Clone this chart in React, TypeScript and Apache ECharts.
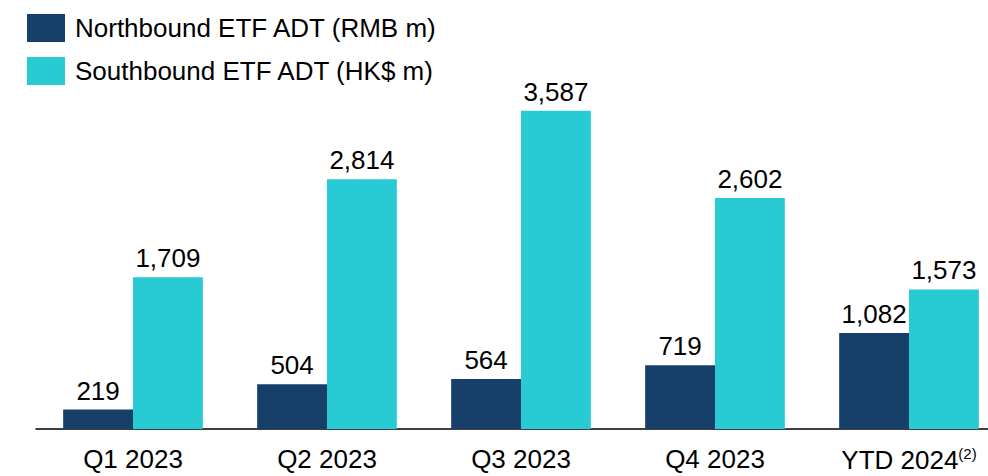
import React, { useEffect, useRef } from "react";
import * as echarts from "echarts";

const categories = ["Q1 2023", "Q2 2023", "Q3 2023", "Q4 2023", "YTD 2024"];
const northbound = [219, 504, 564, 719, 1082];
const southbound = [1709, 2814, 3587, 2602, 1573];
const seriesNames = ["Northbound ETF ADT (RMB m)", "Southbound ETF ADT (HK$ m)"];

const NAVY = "#16406a";
const CYAN = "#28cad4";
const FONT = "Liberation Sans, Arial, sans-serif";

export default function App() {
  const ref = useRef<HTMLDivElement>(null);
  useEffect(() => {
    if (!ref.current) return;
    const chart = echarts.init(ref.current, undefined, { renderer: "svg" });
    const fmt = (p: any) => Number(p.value).toLocaleString("en-US");
    chart.setOption({
      animation: false,
      textStyle: { fontFamily: FONT },
      legend: {
        orient: "vertical",
        left: 22,
        top: 9,
        itemWidth: 38,
        itemHeight: 28,
        itemGap: 15,
        icon: "rect",
        textStyle: { fontSize: 26, color: "#000", fontFamily: FONT, padding: [0, 0, 0, 5] },
        data: seriesNames,
      },
      grid: { left: 36, width: 970, top: 74, bottom: 47, containLabel: false, outerBoundsMode: "none" },
      xAxis: {
        type: "category",
        data: categories,
        axisLine: { lineStyle: { color: "#000", width: 1.5 } },
        axisTick: { show: false },
        axisLabel: {
          interval: 0,
          margin: 17,
          fontSize: 26,
          color: "#000",
          fontFamily: FONT,
          formatter: (v: string) => (v.startsWith("YTD") ? `{a|${v}}{s|(2)}` : v),
          rich: {
            a: { fontSize: 26, color: "#000", fontFamily: FONT },
            s: { fontSize: 15, color: "#000", fontFamily: FONT, verticalAlign: "top", padding: [0, 0, 12, 0] },
          },
        },
      },
      yAxis: { type: "value", min: 0, max: 4000, show: false, splitLine: { show: false } },
      series: [
        {
          name: seriesNames[0],
          type: "bar",
          data: northbound,
          barGap: "0%",
          barCategoryGap: "28%",
          itemStyle: { color: NAVY },
          label: { show: true, position: "top", distance: 6, fontSize: 26, color: "#000", fontFamily: FONT, formatter: fmt },
        },
        {
          name: seriesNames[1],
          type: "bar",
          data: southbound,
          barGap: "0%",
          barCategoryGap: "28%",
          itemStyle: { color: CYAN },
          label: { show: true, position: "top", distance: 6, fontSize: 26, color: "#000", fontFamily: FONT, formatter: fmt },
        },
      ],
    });
    return () => chart.dispose();
  }, []);
  return <div ref={ref} style={{ position: "absolute", left: 0, top: 0, width: 988, height: 476 }} />;
}
